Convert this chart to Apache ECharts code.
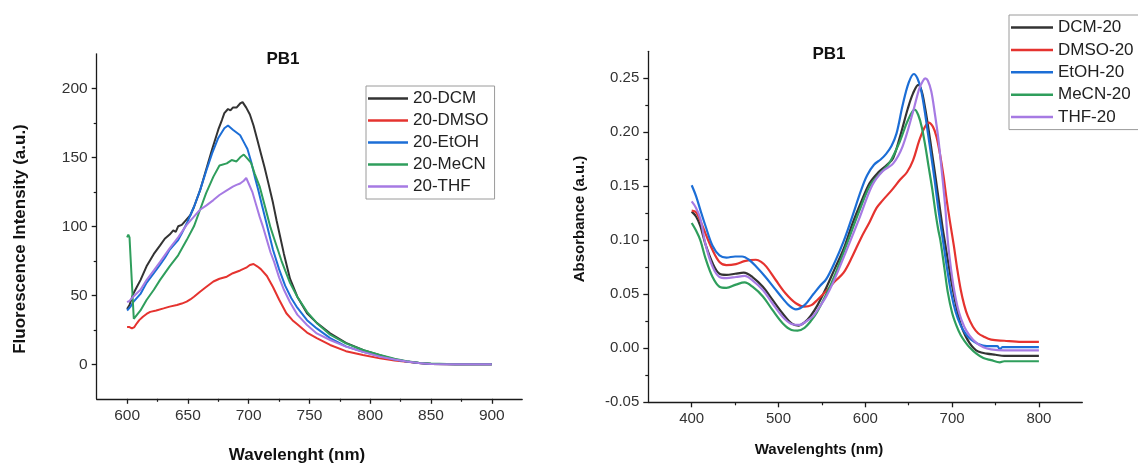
<!DOCTYPE html>
<html>
<head>
<meta charset="utf-8">
<script src="https://cdn.jsdelivr.net/npm/echarts@6/dist/echarts.min.js"></script>
<style>
html,body{margin:0;padding:0;background:#fff;}
#main{width:1138px;height:464px;}
</style>
</head>
<body>
<div id="main"></div>
<script>
// ---------- Left panel: fluorescence (x = wavelength nm, y = intensity a.u.) ----------
const flNames = ['20-DCM','20-DMSO','20-EtOH','20-MeCN','20-THF'];
const flDCM = [[600,40],[602,43],[605,51],[608,56],[611,61],[616,71],[622,80],[627,86],[631,91],[635,94],[638,97],[640,96],[642,100],[645,101],[649,105],[652,108],[655,114],[660,126],[665,141],[670,156],[675,170],[678,177],[680,182],[683,185],[685,184],[687,186],[690,186],[693,189],[695,190],[698,186],[701,181],[704,173],[707,163],[710,153],[713,143],[716,132],[720,117],[723,104],[726,92],[729,80],[734,62],[740,49],[748,37],[756,30],[767,22.4],[780,15.5],[795,10],[808,6.5],[820,3.5],[830,2],[840,1],[850,0.3],[870,0],[900,0]];
const flDMSO = [[600,27],[602,27],[604,26],[606,27],[608,29.7],[610,32],[613,34.5],[616,36.5],[619,38],[624,39],[630,40.5],[635,41.8],[641,43],[645,44],[649,45.4],[652,47],[655,49],[660,52.6],[665,56],[671,60],[676,62],[682,63.5],[687,66],[693,68],[698,70],[701,72],[704,72.7],[707,71],[710,69],[715,64],[720,56],[725,47],[731,37],[736,32],[740,29],[748,23],[756,19],[767,14],[780,9.5],[794,6.7],[808,4.3],[820,2.8],[830,1.8],[840,1],[850,0.3],[870,0],[900,0]];
const flEtOH = [[600,39],[603,42],[605,45],[611,51],[616,59],[622,66],[627,72],[631,77],[633,80],[635,83],[638,86],[642,90],[645,95],[649,102],[655,114],[660,126],[665,140],[670,153],[675,164],[680,171],[683,173],[687,170],[690,168],[693,166],[696,161],[699,156],[702,147],[705,136],[708,126],[711,115],[715,101],[720,83],[725,69],[730,57],[735,48],[740,41],[748,32],[756,26],[767,19],[780,13],[794,9],[808,6],[820,3.5],[830,2],[840,1],[850,0.3],[870,0],[900,0]];
const flMeCN = [[600,92],[601,94],[602,92],[605.5,33],[607,34],[611,39],[616,46.6],[622,54],[627,61],[635,71],[642,79],[649,90],[655,100],[660,112],[665,124],[671,136],[676,144],[682,145.6],[686,148],[690,147],[693,150],[696,152],[699,149],[702,146],[705,138],[709,129],[712,119],[715,109],[718,99],[721,91],[724,83],[727,75],[730,68],[734,59],[740,49],[748,38],[756,30],[767,21.5],[780,15.2],[794,10.4],[808,6.7],[820,4],[830,2.2],[840,1.2],[850,0.5],[870,0],[900,0]];
const flTHF = [[600,45],[602,46],[605,49],[611,54],[616,61],[622,68],[627,74],[635,84],[642,92],[649,101],[655,107],[660,112],[665,115],[671,119],[676,122.7],[682,126],[687,128.7],[690,130],[693,131],[696,133],[698,135],[700,131],[703,125],[706,116],[709,107],[712,99],[715,90],[718,81],[721,74],[725,63],[729,54],[734,45],[740,36],[748,28.5],[756,22.4],[767,17.6],[780,12.8],[794,9],[808,5.5],[820,3.5],[830,2],[840,1],[850,0.3],[870,0],[900,0]];
const flXTicks = [600,650,700,750,800,850,900];
const flXMinor = [625,675,725,775,825,875];
const flYTicks = [0,50,100,150,200];
const flYMinor = [25,75,125,175];

// ---------- Right panel: absorbance ----------
const absNames = ['DCM-20','DMSO-20','EtOH-20','MeCN-20','THF-20'];
const absDCM = [[400,.1265],[405,.122],[410,.113],[416,.096],[424,.079],[432,.069],[440,.068],[450,.069],[460,.070],[470,.066],[482,.057],[493,.045],[505,.032],[515,.023],[523,.021],[530,.024],[537,.030],[545,.040],[555,.056],[565,.074],[575,.092],[585,.115],[595,.135],[605,.153],[615,.163],[625,.170],[632,.176],[640,.196],[649,.222],[655,.236],[661,.244],[665,.238],[669,.222],[673,.202],[677,.180],[681,.158],[685,.135],[689,.112],[692,.097],[695,.082],[700,.058],[705,.038],[710,.022],[715,.012],[720,.005],[725,.000],[730,-.003],[740,-.005],[750,-.006],[760,-.007],[800,-.007]];
const absDMSO = [[400,.1275],[405,.126],[410,.118],[416,.106],[424,.091],[432,.080],[440,.077],[451,.078],[462,.081],[474,.082],[480,.080],[486,.0756],[497,.063],[508,.051],[520,.0417],[530,.0386],[538,.040],[545,.045],[555,.053],[565,.062],[575,.070],[585,.085],[595,.102],[605,.117],[613,.130],[620,.137],[630,.146],[640,.156],[648,.163],[655,.174],[662,.192],[668,.204],[673,.209],[678,.205],[682,.196],[686,.180],[690,.160],[694,.136],[698,.115],[702,.095],[706,.073],[710,.054],[714,.040],[718,.030],[724,.020],[730,.014],[736,.011],[745,.008],[760,.007],[780,.006],[800,.006]];
const absEtOH = [[400,.151],[405,.141],[410,.128],[416,.113],[424,.095],[432,.086],[440,.084],[450,.085],[458,.085],[466,.082],[475,.075],[485,.066],[495,.056],[505,.046],[513,.039],[520,.036],[530,.040],[540,.050],[548,.058],[555,.064],[565,.080],[575,.099],[585,.122],[595,.146],[602,.160],[610,.170],[618,.175],[624,.180],[630,.187],[636,.199],[643,.225],[650,.246],[656,.254],[660,.250],[664,.240],[668,.222],[672,.200],[676,.178],[680,.155],[684,.130],[688,.108],[690,.097],[694,.075],[699,.051],[704,.034],[710,.021],[716,.013],[722,.008],[730,.004],[740,.002],[752,.002],[755,-.001],[758,.001],[800,.001]];
const absMeCN = [[400,.116],[405,.109],[410,.100],[416,.083],[424,.066],[432,.057],[440,.056],[451,.059],[461,.061],[470,.057],[482,.048],[493,.0355],[505,.023],[515,.017],[522,.0164],[530,.019],[537,.025],[544,.033],[555,.050],[565,.068],[578,.095],[593,.127],[605,.150],[616,.161],[628,.172],[640,.192],[649,.211],[657,.221],[661,.216],[665,.205],[669,.188],[673,.168],[677,.148],[681,.125],[684,.110],[686.5,.100],[691,.075],[695,.052],[700,.033],[705,.021],[710,.012],[715,.006],[720,.001],[728,-.005],[736,-.009],[745,-.011],[755,-.013],[760,-.012],[800,-.012]];
const absTHF = [[400,.136],[405,.130],[410,.120],[416,.096],[424,.0756],[432,.066],[440,.065],[451,.066],[461,.067],[470,.063],[482,.054],[493,.0417],[505,.029],[515,.0225],[524,.0216],[532,.025],[540,.030],[547,.038],[555,.048],[563,.061],[578,.090],[593,.120],[608,.151],[620,.164],[632,.171],[643,.187],[655,.219],[662,.240],[666,.247],[669,.250],[672,.248],[676,.238],[680,.218],[684,.195],[688,.165],[692,.132],[695,.100],[699,.072],[703,.051],[708,.033],[714,.020],[720,.012],[728,.005],[736,.001],[745,-.001],[760,-.002],[800,-.002]];
const absXTicks = [400,500,600,700,800];
const absXMinor = [450,550,650,750];
const absYTicks = [-0.05,0,0.05,0.10,0.15,0.20,0.25];
const absYMinor = [-0.025,0.025,0.075,0.125,0.175,0.225];

const colors = ['#333333','#e5332f','#1c6ed6','#2f9e5c','#a67ae3'];
const FONT = '"Liberation Sans", Arial, sans-serif';

const chart = echarts.init(document.getElementById('main'), null, {renderer:'canvas'});

function mainAxis(grid, min, max, ticks, fmt, fs, pos) {
  return {
    type:'value', gridIndex:grid, min:min, max:max, position:pos,
    axisLine:{show:true, onZero:false, lineStyle:{color:'#1a1a1a', width:1.3}},
    axisTick:{show:true, customValues:ticks, length:5, inside:false, lineStyle:{color:'#1a1a1a', width:1.3}},
    axisLabel:{show:true, customValues:ticks, formatter:fmt, color:'#333', fontSize:fs, fontFamily:FONT, margin:9},
    splitLine:{show:false}
  };
}
function minorAxis(grid, min, max, ticks, pos) {
  return {
    type:'value', gridIndex:grid, min:min, max:max, position:pos, offset:0,
    axisLine:{show:false, onZero:false},
    axisTick:{show:true, customValues:ticks, length:3, inside:false, lineStyle:{color:'#1a1a1a', width:1.2}},
    axisLabel:{show:false},
    splitLine:{show:false}
  };
}

const series = [];
[flDCM, flDMSO, flEtOH, flMeCN, flTHF].forEach((d,i)=>{
  series.push({type:'line', name:flNames[i], xAxisIndex:0, yAxisIndex:0, data:d,
    showSymbol:false, smooth:false, lineStyle:{width:2, color:colors[i]}, itemStyle:{color:colors[i]}});
});
[absDCM, absDMSO, absEtOH, absMeCN, absTHF].forEach((d,i)=>{
  series.push({type:'line', name:absNames[i], xAxisIndex:2, yAxisIndex:2, data:d,
    showSymbol:false, smooth:0.35, lineStyle:{width:2.2, color:colors[i]}, itemStyle:{color:colors[i]}});
});

const option = {
  animation:false,
  backgroundColor:'#ffffff',
  grid:[
    {left:96.7, top:53.8, width:425.5, height:345, containLabel:false},
    {left:648.3, top:51.3, width:434, height:351, containLabel:false}
  ],
  xAxis:[
    mainAxis(0, 575, 925, flXTicks, v=>String(v), 15.5, 'bottom'),
    minorAxis(0, 575, 925, flXMinor, 'bottom'),
    mainAxis(1, 350, 850, absXTicks, v=>String(v), 15, 'bottom'),
    minorAxis(1, 350, 850, absXMinor, 'bottom')
  ],
  yAxis:[
    mainAxis(0, -25, 225, flYTicks, v=>String(v), 15.5, 'left'),
    minorAxis(0, -25, 225, flYMinor, 'left'),
    mainAxis(1, -0.05, 0.275, absYTicks, v=>Number(v).toFixed(2), 15, 'left'),
    minorAxis(1, -0.05, 0.275, absYMinor, 'left')
  ],
  legend:[
    {data:flNames, orient:'vertical', left:366, top:86, padding:[4,6,4,2], itemGap:5,
     itemWidth:40, itemHeight:2.5, icon:'rect', borderColor:'#9a9a9a', borderWidth:1,
     textStyle:{fontSize:17, fontFamily:FONT, color:'#222', lineHeight:17}},
    {data:absNames, orient:'vertical', left:1009, top:15, padding:[4,6,4,2], itemGap:5.4,
     itemWidth:42, itemHeight:2.5, icon:'rect', borderColor:'#9a9a9a', borderWidth:1,
     textStyle:{fontSize:17, fontFamily:FONT, color:'#222', lineHeight:17}}
  ],
  graphic:[
    {type:'text', x:283, y:59, style:{text:'PB1', font:'bold 17px '+FONT, fill:'#111', align:'center', verticalAlign:'middle'}},
    {type:'text', x:829, y:54, style:{text:'PB1', font:'bold 17px '+FONT, fill:'#111', align:'center', verticalAlign:'middle'}},
    {type:'text', x:297, y:455, style:{text:'Wavelenght (nm)', font:'bold 17px '+FONT, fill:'#111', align:'center', verticalAlign:'middle'}},
    {type:'text', x:819, y:450, style:{text:'Wavelenghts (nm)', font:'bold 15px '+FONT, fill:'#111', align:'center', verticalAlign:'middle'}},
    {type:'text', x:20, y:239, rotation:Math.PI/2, style:{text:'Fluorescence Intensity (a.u.)', font:'bold 17px '+FONT, fill:'#111', align:'center', verticalAlign:'middle'}},
    {type:'text', x:580, y:219, rotation:Math.PI/2, style:{text:'Absorbance (a.u.)', font:'bold 15px '+FONT, fill:'#111', align:'center', verticalAlign:'middle'}}
  ],
  series:series
};
chart.setOption(option);
</script>
</body>
</html>
